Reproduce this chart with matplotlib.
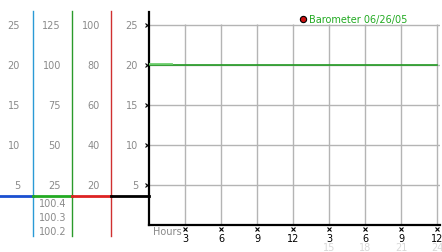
import matplotlib.pyplot as plt
import matplotlib.transforms as mtransforms
from matplotlib.lines import Line2D

# scale columns on the left
scale_a = [5, 10, 15, 20, 25]
scale_b = [25, 50, 75, 100, 125]
scale_c = [20, 40, 60, 80, 100]
baro_scale = ["100.4", "100.3", "100.2"]

# hours axis
hour_ticks = [3, 6, 9, 12, 15, 18, 21, 24]
hour_labels = ["3", "6", "9", "12", "3", "6", "9", "12"]
pm_ticks = [15, 18, 21, 24]

# barometer trace (plotted on the 0-25 scale)
baro_hours = [0, 24]
baro_vals = [20.0, 20.0]
early_hours = [0, 1.9]
early_vals = [20.12, 20.12]

W, H = 442, 253
fig = plt.figure(figsize=(W / 100, H / 100), dpi=100)
fig.patch.set_facecolor("white")
plt.rcParams["font.family"] = "DejaVu Sans"

ax = fig.add_axes([149 / W, 27 / H, 291 / W, 213 / H])
ax.set_xlim(0, 291 / 12)
ax.set_ylim(0, 213 / 8)
for s in ["top", "right"]:
    ax.spines[s].set_visible(False)
ax.spines["left"].set_linewidth(1.6)
ax.spines["bottom"].set_linewidth(1.6)

grid = "#b4b4b4"
ax.hlines(scale_a, 0, 291 / 12, color=grid, lw=1, zorder=1)
ax.vlines(hour_ticks, 0, 25.1, color=grid, lw=1, zorder=1)

ax.plot(baro_hours, baro_vals, color="#229a22", lw=1.2, zorder=3)
ax.plot(early_hours, early_vals, color="#6fcf6f", lw=1.3, zorder=4)

# tick marks
ax.plot([-0.17] * len(scale_a), scale_a, ls="none", marker="x", ms=2.5,
        mew=0.8, color="black", clip_on=False)
ax.plot(hour_ticks, [-0.45] * len(hour_ticks), ls="none", marker="x", ms=2.5,
        mew=0.8, color="black", clip_on=False)

ax.set_yticks([])
ax.set_xticks(hour_ticks)
ax.set_xticklabels(hour_labels, fontsize=7)
ax.tick_params(axis="x", length=0, pad=5.5)

trans_x = mtransforms.blended_transform_factory(ax.transData, ax.transAxes)
for t in pm_ticks:
    ax.text(t, -0.105, str(t), transform=trans_x, ha="center", va="center",
            fontsize=7, color="#d8d8d8")
ax.text(0.3, -0.03, "Hours", transform=trans_x, ha="left",
        va="center", fontsize=7, color="#888888")

# left scale columns
fig_px = mtransforms.blended_transform_factory(
    mtransforms.Affine2D().scale(1 / W, 1) + fig.transFigure, ax.transData)
lab = "#8a8a8a"
for i, v in enumerate(scale_a):
    fig.text(20, v, str(v), transform=fig_px, ha="right", va="center",
             fontsize=7, color=lab)
    fig.text(138, v, str(v), transform=fig_px, ha="right", va="center",
             fontsize=7, color=lab)
    fig.text(61, v, str(scale_b[i]), transform=fig_px, ha="right",
             va="center", fontsize=7, color=lab)
    fig.text(100, v, str(scale_c[i]), transform=fig_px, ha="right",
             va="center", fontsize=7, color=lab)
for i, s in enumerate(baro_scale):
    fig.text(53, 2.75 - i * 1.75, s, transform=fig_px, ha="center",
             va="center", fontsize=7, color=lab)

# colored scale lines
def figline(x0, y0, x1, y1, c, lw):
    fig.add_artist(Line2D([x0 / W, x1 / W], [1 - y0 / H, 1 - y1 / H],
                          color=c, lw=lw, transform=fig.transFigure))

figline(33, 12, 33, 237, "#2a9ad6", 1)
figline(72, 12, 72, 237, "#2a9a2a", 1)
figline(111, 12, 111, 237, "#d03030", 1)
figline(0, 197, 33, 197, "#1a4fd0", 2)
figline(33, 197, 72, 197, "#22aa22", 2)
figline(72, 197, 111, 197, "#dd2222", 2)
figline(111, 197, 149, 197, "black", 2)

# legend
ax.plot([12.8], [25.8], ls="none", marker="o", ms=4.5, mfc="#cc1111",
        mec="black", mew=0.8, clip_on=False)
ax.text(13.3, 25.8, "Barometer 06/26/05", ha="left", va="center",
        fontsize=7, color="#22aa22")

fig.savefig("out.png", dpi=100)
